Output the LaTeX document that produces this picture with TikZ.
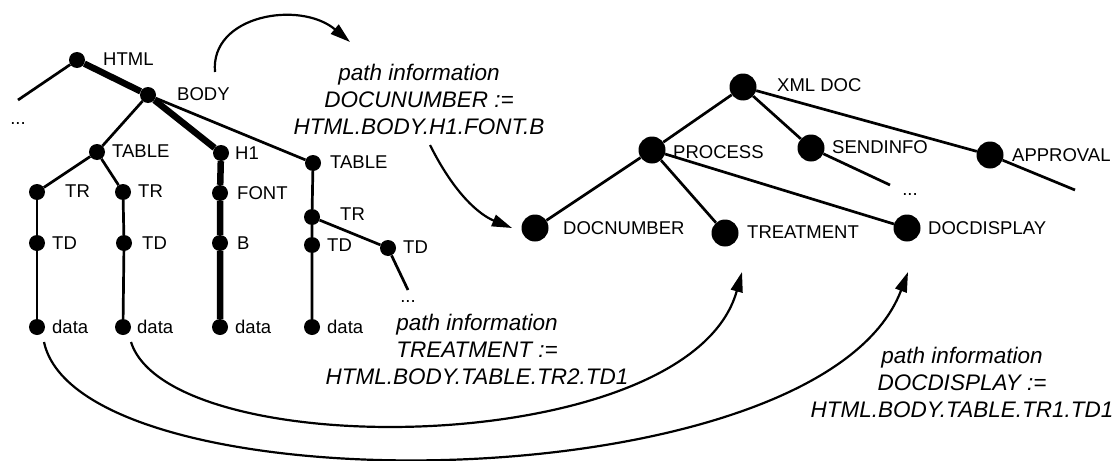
\documentclass[tikz,border=0pt]{standalone}
\usepackage{fontspec}
\setmainfont{Liberation Sans}
\usetikzlibrary{arrows.meta}
\begin{document}
\begin{tikzpicture}[x=1pt,y=-1pt,
  sn/.style={circle,fill=black,inner sep=0pt,minimum size=16pt},
  bn/.style={circle,fill=black,inner sep=0pt,minimum size=27pt},
  lbl/.style={anchor=west,inner sep=0pt,font=\fontsize{18.5}{20}\selectfont},
  dots/.style={inner sep=0pt,font=\fontsize{18.5}{20}\selectfont},
  pinfo/.style={align=center,inner sep=0pt,font=\fontsize{22.5}{27}\selectfont\itshape},
  edge/.style={line width=2.7pt},
  thickedge/.style={line width=6.5pt},
  conn/.style={line width=2.2pt,-{Triangle[length=20pt,width=12pt]}}
]
\useasboundingbox (0,0) rectangle (1115,460);

% ---------- left (HTML) tree ----------
\node[sn] (html) at (77,60) {};
\node[sn] (body) at (148,95) {};
\node[sn] (tabl) at (97,152) {};
\node[sn] (h1) at (221,153) {};
\node[sn] (tabr) at (313,163) {};
\node[sn] (tr1) at (37,192) {};
\node[sn] (tr2) at (123,192) {};
\node[sn] (font) at (220,193) {};
\node[sn] (td1) at (37,243) {};
\node[sn] (td2) at (124,243) {};
\node[sn] (b) at (220,243) {};
\node[sn] (trr) at (312,217) {};
\node[sn] (tdr) at (312,245) {};
\node[sn] (tdrr) at (388,248) {};
\node[sn] (d1) at (37,327) {};
\node[sn] (d2) at (123,327) {};
\node[sn] (d3) at (220,327) {};
\node[sn] (d4) at (312,327) {};
\coordinate (htmlstub) at (18,100);
\coordinate (tdstub) at (408,290);

\node[lbl] (lhtml) at (103,59) {HTML};
\node[lbl] (lbody) at (177,94) {BODY};
\node[lbl] (ltabl) at (112,151) {TABLE};
\node[lbl] (lh1) at (235,153) {H1};
\node[lbl] (ltabr) at (330,162) {TABLE};
\node[lbl] (ltr1) at (65,191) {TR};
\node[lbl] (ltr2) at (138,191) {TR};
\node[lbl] (lfont) at (237,193) {FONT};
\node[lbl] (ltd1) at (52,243) {TD};
\node[lbl] (ltd2) at (142,243) {TD};
\node[lbl] (lb) at (237,243) {B};
\node[lbl] (ltrr) at (340,214) {TR};
\node[lbl] (ltdr) at (327,245) {TD};
\node[lbl] (ltdrr) at (403,247) {TD};
\node[lbl] (ld1) at (52,327) {data};
\node[lbl] (ld2) at (137,327) {data};
\node[lbl] (ld3) at (235,327) {data};
\node[lbl] (ld4) at (327,327) {data};
\node[dots] (dotsl) at (18,124) {...};
\node[dots] (dotsr) at (408,302) {...};

\draw[edge] (html) -- (htmlstub);
\draw[thickedge] (html) -- (body) -- (h1) -- (font) -- (b) -- (d3);
\draw[edge] (body) -- (tabl);
\draw[edge] (body) -- (tabr);
\draw[edge] (tabl) -- (tr1);
\draw[edge] (tabl) -- (tr2);
\draw[edge] (tr1) -- (td1) -- (d1);
\draw[edge] (tr2) -- (td2) -- (d2);
\draw[edge] (tabr) -- (trr) -- (tdr) -- (d4);
\draw[edge] (trr) -- (tdrr) -- (tdstub);

% ---------- right (XML) tree ----------
\node[bn] (xml) at (743,87) {};
\node[bn] (proc) at (652,150) {};
\node[bn] (send) at (811,148) {};
\node[bn] (appr) at (990,155) {};
\node[bn] (docn) at (535,228) {};
\node[bn] (treat) at (725,233) {};
\node[bn] (docd) at (907,228) {};
\coordinate (sendstub) at (890,185);
\coordinate (apprstub) at (1075,190);

\node[lbl] (lxml) at (777,85) {XML DOC};
\node[lbl] (lproc) at (673,152) {PROCESS};
\node[lbl] (lsend) at (832,147) {SENDINFO};
\node[lbl] (lappr) at (1012,155) {APPROVAL};
\node[lbl] (ldocn) at (563,228) {DOCNUMBER};
\node[lbl] (ltreat) at (747,232) {TREATMENT};
\node[lbl] (ldocd) at (928,228) {DOCDISPLAY};
\node[dots] (dotsx) at (910,195) {...};

\draw[edge] (xml) -- (proc);
\draw[edge] (xml) -- (send);
\draw[edge] (xml) -- (appr);
\draw[edge] (proc) -- (docn);
\draw[edge] (proc) -- (treat);
\draw[edge] (proc) -- (docd);
\draw[edge] (send) -- (sendstub);
\draw[edge] (appr) -- (apprstub);

% ---------- path information texts ----------
\node[pinfo] (p1) at (419,99) {path information\\DOCUNUMBER :=\\HTML.BODY.H1.FONT.B};
\node[pinfo] (p2) at (477,349) {path information\\TREATMENT :=\\HTML.BODY.TABLE.TR2.TD1};
\node[pinfo] (p3) at (962,382) {path information\\DOCDISPLAY :=\\HTML.BODY.TABLE.TR1.TD1};

% ---------- connectors ----------
\coordinate (a1s) at (215,72);
\coordinate (a1e) at (350,42);
\coordinate (a2s) at (430,145);
\coordinate (a2e) at (512,228);
\coordinate (a3s) at (131,342);
\coordinate (a3e) at (742,272);
\coordinate (a4s) at (44,342);
\coordinate (a4e) at (908,272);

\draw[conn] (a1s) .. controls (210,15) and (300,0) .. (a1e);
\draw[conn] (a2s) .. controls (455,195) and (480,215) .. (a2e);
\draw[conn] (a3s) .. controls (170,465) and (690,460) .. (a3e);
\draw[conn] (a4s) .. controls (80,510) and (820,505) .. (a4e);
\end{tikzpicture}
\end{document}
